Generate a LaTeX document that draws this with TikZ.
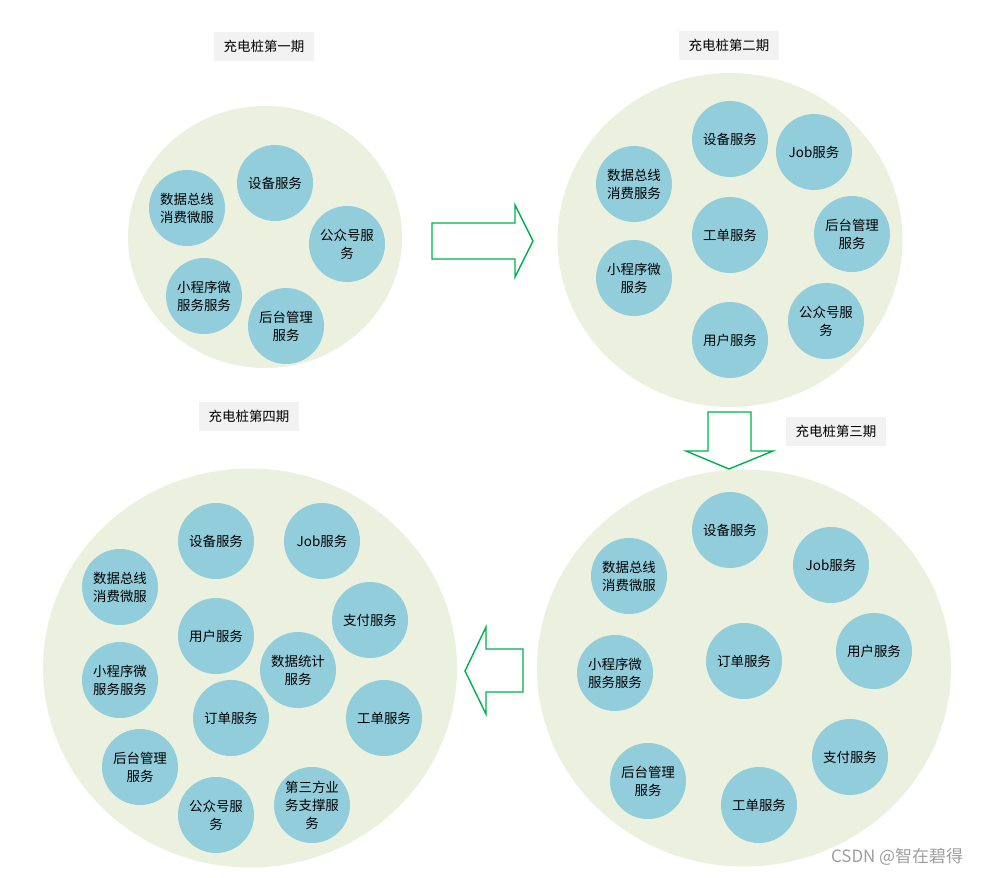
\documentclass[tikz,border=0pt]{standalone}
\usepackage{fontspec}
\setmainfont{Noto Sans CJK SC}
\usepackage{xcolor}
\usepackage{tikz}
\usetikzlibrary{shapes.geometric}

\definecolor{phasefill}{HTML}{EBF1DE}
\definecolor{svcfill}{HTML}{92CDDC}
\definecolor{arrowgreen}{HTML}{00B050}
\definecolor{titlefill}{HTML}{F2F2F2}

\begin{document}
\begin{tikzpicture}[
  x=1bp, y=-1bp,
  phase/.style={ellipse, fill=phasefill, inner sep=0pt},
  svc/.style={circle, fill=svcfill, minimum size=76bp, inner sep=0pt, align=center,
    font=\fontsize{13.5}{18}\selectfont},
  title/.style={fill=titlefill, minimum width=100bp, minimum height=29bp, inner sep=0pt,
    font=\fontsize{13.5}{16}\selectfont},
  blockarrow/.style={draw=arrowgreen, line width=1.4bp, fill=white, line join=miter},
  mark text/.style={text=black!38, font=\fontsize{17}{19}\selectfont}
]
\useasboundingbox (0,0) rectangle (982,878);

\node[phase, minimum width=274bp, minimum height=262bp] (p1) at (265,237) {};
\node[phase, minimum width=345bp, minimum height=334bp] (p2) at (730,240) {};
\node[phase, minimum width=414bp, minimum height=397bp] (p3) at (744,668) {};
\node[phase, minimum width=414bp, minimum height=399bp] (p4) at (250,668) {};

\node[title] (t1) at (264,46) {充电桩第一期};
\node[title] (t2) at (729,45) {充电桩第二期};
\node[title] (t3) at (836,431) {充电桩第三期};
\node[title] (t4) at (249,416) {充电桩第四期};

\node[svc] (p1dev) at (275,183) {设备服务};
\node[svc] (p1bus) at (187,208) {数据总线\\消费微服};
\node[svc] (p1pub) at (347,244) {公众号服\\务};
\node[svc] (p1app) at (204,296) {小程序微\\服务服务};
\node[svc] (p1adm) at (286,326) {后台管理\\服务};

\node[svc] (p2dev) at (730,139) {设备服务};
\node[svc] (p2job) at (814,152) {Job服务};
\node[svc] (p2bus) at (634,184) {数据总线\\消费服务};
\node[svc] (p2wo)  at (730,235) {工单服务};
\node[svc] (p2adm) at (852,234) {后台管理\\服务};
\node[svc] (p2app) at (634,278) {小程序微\\服务};
\node[svc] (p2pub) at (826,321) {公众号服\\务};
\node[svc] (p2usr) at (730,340) {用户服务};

\node[svc] (p3dev) at (730,530) {设备服务};
\node[svc] (p3job) at (831,565) {Job服务};
\node[svc] (p3bus) at (629,576) {数据总线\\消费微服};
\node[svc] (p3ord) at (744,661) {订单服务};
\node[svc] (p3usr) at (874,651) {用户服务};
\node[svc] (p3app) at (615,673) {小程序微\\服务服务};
\node[svc] (p3pay) at (850,757) {支付服务};
\node[svc] (p3adm) at (648,781) {后台管理\\服务};
\node[svc] (p3wo)  at (759,805) {工单服务};

\node[svc] (p4dev) at (216,541) {设备服务};
\node[svc] (p4job) at (322,541) {Job服务};
\node[svc] (p4bus) at (120,587) {数据总线\\消费微服};
\node[svc] (p4usr) at (216,636) {用户服务};
\node[svc] (p4pay) at (370,620) {支付服务};
\node[svc] (p4sta) at (298,670) {数据统计\\服务};
\node[svc] (p4app) at (120,680) {小程序微\\服务服务};
\node[svc] (p4ord) at (231,718) {订单服务};
\node[svc] (p4wo)  at (384,718) {工单服务};
\node[svc] (p4adm) at (140,767) {后台管理\\服务};
\node[svc] (p4pub) at (216,815) {公众号服\\务};
\node[svc] (p4thd) at (312,805) {第三方业\\务支撑服\\务};

\draw[blockarrow] (432,223) -- (515,223) -- (515,205) -- (533,241) -- (515,277)
  -- (515,259) -- (432,259) -- cycle;
\draw[blockarrow] (708,412) -- (751,412) -- (751,451) -- (773,451) -- (729,469)
  -- (686,451) -- (708,451) -- cycle;
\draw[blockarrow] (523,649) -- (486,649) -- (486,627) -- (465,671) -- (486,714)
  -- (486,692) -- (523,692) -- cycle;

\node[mark text] (wm) at (897,857) {CSDN @智在碧得};
\end{tikzpicture}
\end{document}
